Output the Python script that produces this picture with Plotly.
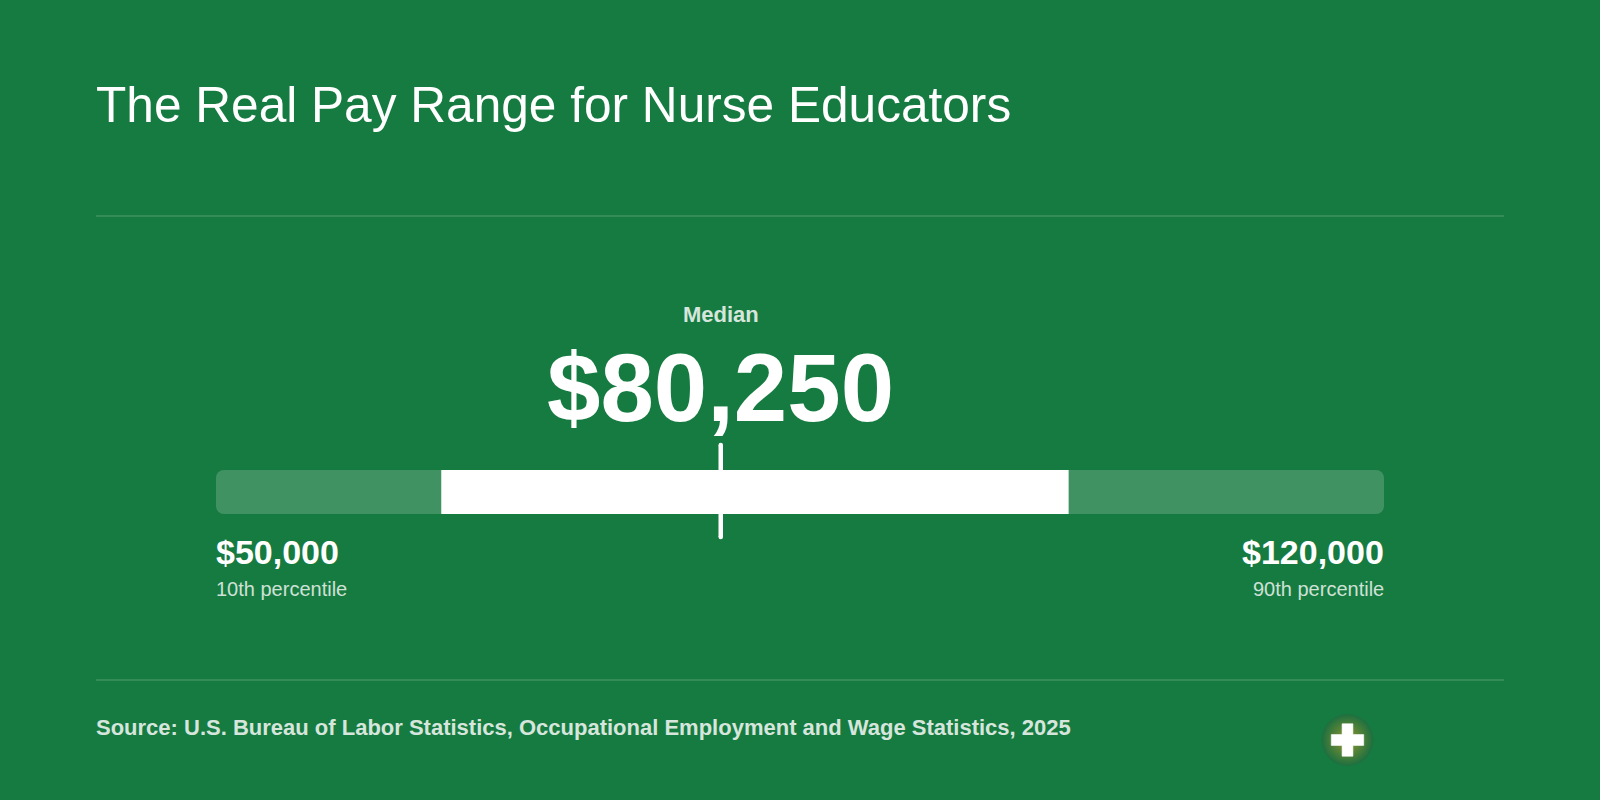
import plotly.graph_objects as go

title = "The Real Pay Range for Nurse Educators"
source = "Source: U.S. Bureau of Labor Statistics, Occupational Employment and Wage Statistics, 2025"

# dollars
p10 = 50000
p25 = 63500
median = 80250
p75 = 101100
p90 = 120000

low_label = "$50,000"
high_label = "$120,000"
median_label = "$80,250"

FONT = "Liberation Sans"
BG = "#167b41"
W, H = 1600, 800

# x axis is dollars, chosen so the track sits at 216..1384 px
per_px = (p90 - p10) / (1384 - 216)
x_range = [p10 - 216 * per_px, p10 + (W - 216) * per_px]

fig = go.Figure()

# track and the middle band
fig.add_trace(go.Bar(y=[492], x=[p90 - p10], base=[p10], width=[44], orientation="h",
                     marker=dict(color="rgba(255,255,255,0.18)", line_width=0, cornerradius=8)))
fig.add_trace(go.Bar(y=[492], x=[p75 - p25], base=[p25], width=[44], orientation="h",
                     marker=dict(color="#ffffff", line_width=0)))

# median tick, markers give it round ends
fig.add_trace(go.Scatter(x=[median, median], y=[445, 537], mode="lines+markers",
                         line=dict(color="#ffffff", width=4.5),
                         marker=dict(color="#ffffff", size=4.5)))


def label(text, x, y, size, color="#ffffff", bold=False, anchor="left", xref="x"):
    # annotations keep 1px of padding, take it back so text sits on the edge
    shift = {"left": -1, "right": 1, "center": 0}[anchor]
    fig.add_annotation(text="<b>%s</b>" % text if bold else text, x=x, y=y, xref=xref, yref="y",
                       xanchor=anchor, yanchor="middle", xshift=shift, showarrow=False, borderpad=0,
                       font=dict(family=FONT, size=size, color=color))


label(title, 96 / W, 105, 49.6, xref="paper")
label("Median", median, 314, 22, color="#d6e6dc", bold=True, anchor="center")
label(median_label, median, 387, 96, bold=True, anchor="center")
label(low_label, p10, 552, 34, bold=True)
label("10th percentile", p10, 589, 20, color="#cfe1d6")
label(high_label, p90, 552, 34, bold=True, anchor="right")
label("90th percentile", p90, 589, 20, color="#cfe1d6", anchor="right")
label(source, 96 / W, 727, 22, color="#d6e6dc", bold=True, xref="paper")

# divider lines
for y in [216, 680]:
    fig.add_shape(type="line", xref="paper", yref="y", x0=96 / W, x1=1504 / W, y0=y, y1=y,
                  line=dict(color="rgba(255,255,255,0.25)", width=1))

# small badge bottom right
badge_x = p10 + (1347.5 - 216) * per_px
fig.add_trace(go.Scatter(x=[badge_x], y=[740], mode="markers",
                         marker=dict(size=52, color="#1c6f40", line_width=0,
                                     gradient=dict(type="radial", color="#97982f"))))
fig.add_trace(go.Scatter(x=[badge_x], y=[740], mode="markers",
                         marker=dict(symbol="cross", size=27, color="#ffffff",
                                     line=dict(color="#ffffff", width=0.6))))

fig.update_layout(
    width=W, height=H,
    margin=dict(l=0, r=0, t=0, b=0),
    paper_bgcolor=BG, plot_bgcolor=BG,
    showlegend=False,
    barmode="overlay",
    xaxis=dict(range=x_range, visible=False, fixedrange=True),
    yaxis=dict(range=[H, 0], visible=False, fixedrange=True),
)

# browser default body margin would leave a white frame
fig.write_html("out.html", config={"displayModeBar": False},
               post_script="document.body.style.margin='0';document.body.style.overflow='hidden';")
